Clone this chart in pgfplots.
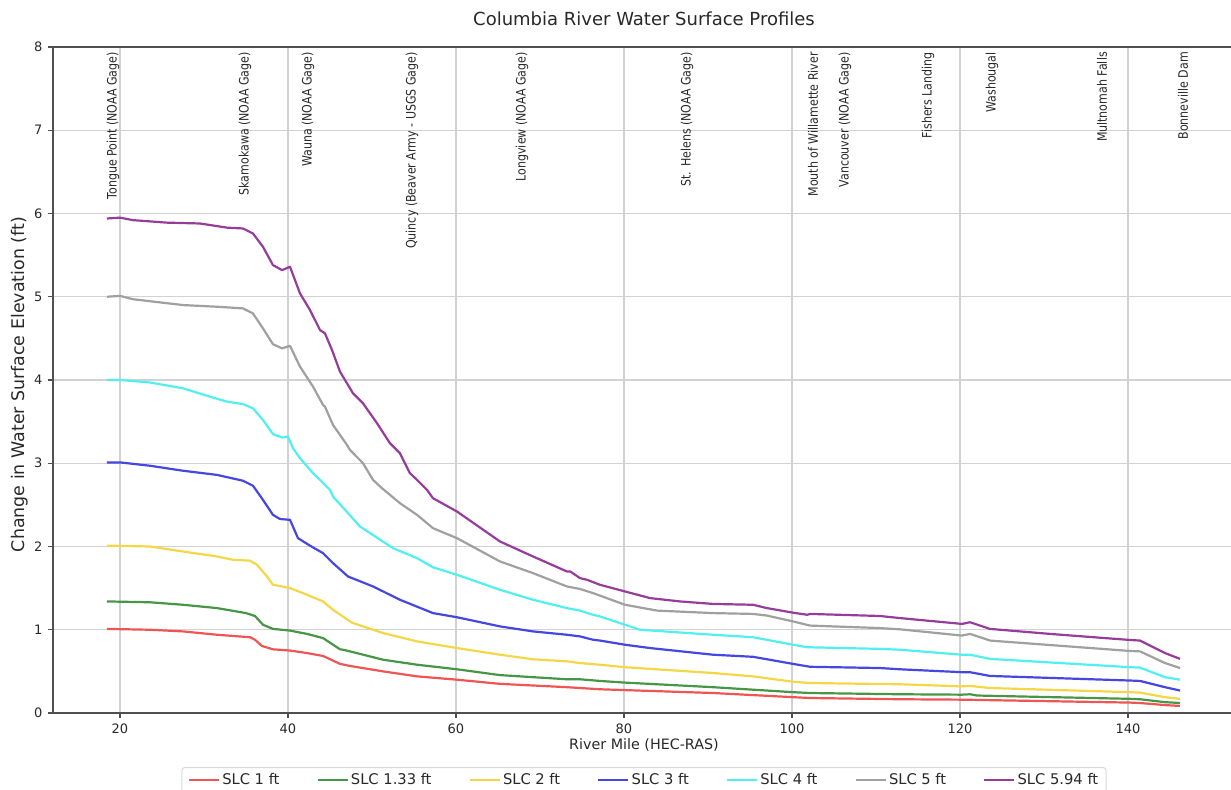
\documentclass[border=0pt]{standalone}
\usepackage{fontspec}
\setmainfont{DejaVu Sans}
\newfontfamily\labfont{DejaVu Sans}[FakeStretch=0.85]
\usepackage{pgfplots}
\pgfplotsset{compat=1.18}
\definecolor{cRed}{RGB}{240,85,85}
\definecolor{cGreen}{RGB}{70,150,70}
\definecolor{cYellow}{RGB}{245,215,70}
\definecolor{cBlue}{RGB}{70,70,225}
\definecolor{cCyan}{RGB}{80,240,240}
\definecolor{cGrey}{RGB}{160,160,160}
\definecolor{cPurple}{RGB}{150,60,155}
\definecolor{spine}{RGB}{80,80,80}
\definecolor{txt}{RGB}{40,40,40}
\begin{document}
\begin{tikzpicture}
\begin{axis}[
  name=ax,
  width=1182pt, height=666pt, scale only axis,
  xmin=12.024, xmax=152.74, ymin=0, ymax=8,
  xtick={20,40,...,140}, ytick={0,1,...,8},
  tick pos=left, tick align=outside,
  major tick length=5pt,
  every tick/.style={spine, line width=1.2pt},
  grid=major,
  major grid style={gray!35, line width=1.3pt},
  axis line style={spine, line width=1.8pt},
  /pgf/number format/assume math mode=true,
  tick label style={font=\fontsize{13}{15}\selectfont, text=txt},
  xticklabel style={yshift=-2pt},
  yticklabel style={xshift=-2pt},
  title={Columbia River Water Surface Profiles},
  title style={at={(axis description cs:0.5,1.033)}, anchor=center, font=\fontsize{18}{21}\selectfont, text=txt},
  xlabel={River Mile (HEC-RAS)},
  x label style={at={(axis description cs:0.5,-0.048)}, anchor=center, font=\fontsize{14.3}{17}\selectfont, text=txt},
  ylabel={Change in Water Surface Elevation (ft)},
  y label style={at={(axis description cs:-0.0279,0.493)}, anchor=center, font=\fontsize{17.4}{20}\selectfont, text=txt},
  legend columns=7,
  legend style={at={(axis description cs:0.5,-0.0811)}, anchor=north,
    draw=gray!30, rounded corners=3pt, line width=1pt,
    font=\fontsize{14.7}{17}\selectfont, text=txt,
    inner xsep=6pt, inner ysep=4pt,
    /tikz/every even column/.append style={column sep=35pt}},
  legend image code/.code={\draw[#1, line width=2.5pt] (0pt,0pt) -- (30pt,0pt);},
  every axis plot/.append style={line width=2.2pt, line join=round},
]
\addplot[cRed] coordinates {
(18.45,1.01) (23.57,1.00) (27.5,0.98) (31.55,0.94) (35.48,0.91) (36.07,0.88) (36.9,0.805)
(38.21,0.765) (40.24,0.75) (42.26,0.72) (44.17,0.685) (46.19,0.59) (47.38,0.565) (51.31,0.50)
(55.36,0.44) (60.12,0.40) (65.24,0.35) (73.2,0.31) (74.76,0.30) (77.14,0.285) (80.12,0.275)
(90.6,0.24) (100.12,0.19) (102.14,0.18) (112.86,0.165) (120.24,0.16) (140.24,0.125) (141.43,0.12) (144.4,0.095) (146.19,0.085)};
\addlegendentry{SLC 1 ft}
\addplot[cGreen] coordinates {
(18.45,1.34) (23.57,1.33) (27.5,1.30) (31.55,1.26) (35.0,1.20) (36.07,1.165) (37.02,1.06)
(38.21,1.01) (40.24,0.99) (42.26,0.95) (44.17,0.90) (46.19,0.765) (46.55,0.76) (47.38,0.74)
(51.31,0.64) (55.36,0.58) (60.12,0.525) (65.24,0.455) (73.2,0.405) (74.76,0.405) (77.14,0.385)
(80.12,0.365) (90.6,0.31) (100.12,0.25) (102.14,0.24) (112.86,0.225) (120.24,0.22) (121.2,0.225) (122,0.21)
(140.24,0.17) (141.43,0.165) (144.4,0.13) (146.19,0.12)};
\addlegendentry{SLC 1.33 ft}
\addplot[cYellow] coordinates {
(18.45,2.01) (23.57,2.00) (27.5,1.94) (31.55,1.88) (33.45,1.84) (35.48,1.83) (36.31,1.78)
(37.5,1.64) (38.21,1.54) (39.29,1.52) (40.24,1.50) (41.79,1.44) (44.17,1.34) (45.36,1.24)
(47.38,1.10) (47.74,1.08) (51.31,0.96) (55.36,0.86) (60.12,0.78) (65.24,0.70) (69.17,0.645)
(73.2,0.62) (74.76,0.60) (77.14,0.58) (80.12,0.55) (90.6,0.48) (95.36,0.44) (100.12,0.375)
(102.14,0.36) (112.86,0.345) (120.24,0.32) (121.2,0.325) (123.57,0.30) (140.24,0.25) (141.43,0.245) (144.4,0.19) (146.19,0.17)};
\addlegendentry{SLC 2 ft}
\addplot[cBlue] coordinates {
(18.45,3.01) (20.0,3.01) (23.57,2.97) (27.5,2.91) (31.55,2.86) (34.64,2.79) (35.83,2.73)
(37.02,2.56) (38.21,2.38) (39.05,2.33) (40.24,2.32) (41.19,2.10) (42.62,2.01) (44.17,1.92)
(45.36,1.80) (47.14,1.64) (50.12,1.52) (53.33,1.36) (57.26,1.20) (60.12,1.15) (65.24,1.04)
(69.17,0.98) (73.2,0.94) (74.76,0.92) (76.31,0.88) (77.14,0.87) (80.12,0.82) (83.1,0.78)
(90.6,0.70) (95.36,0.675) (100.12,0.59) (102.14,0.555) (110.48,0.54) (112.86,0.525)
(120.24,0.49) (121.19,0.49) (123.57,0.445) (140.24,0.39) (141.43,0.385) (144.4,0.31) (146.19,0.27)};
\addlegendentry{SLC 3 ft}
\addplot[cCyan] coordinates {
(18.45,4.00) (20.0,4.00) (23.57,3.97) (27.5,3.90) (30.7,3.80) (32.74,3.74) (34.64,3.71)
(35.83,3.66) (37.02,3.52) (38.21,3.35) (39.29,3.31) (40.0,3.32) (40.6,3.18) (41.43,3.06)
(42.98,2.88) (43.81,2.80) (45.0,2.68) (45.36,2.60) (48.57,2.24) (52.5,1.98) (55.36,1.86)
(57.26,1.75) (60.12,1.66) (65.24,1.48) (69.17,1.36) (73.2,1.26) (74.76,1.23) (76.31,1.18)
(77.14,1.16) (80.12,1.06) (81.9,1.00) (90.6,0.94) (95.36,0.91) (100.12,0.82) (101.79,0.79)
(110.48,0.77) (112.86,0.76) (120.24,0.70) (121.19,0.70) (123.57,0.65) (140.24,0.55) (141.43,0.545)
(144.4,0.43) (146.19,0.40)};
\addlegendentry{SLC 4 ft}
\addplot[cGrey] coordinates {
(18.45,5.00) (20.0,5.01) (21.55,4.97) (27.5,4.90) (31.55,4.88) (34.64,4.86) (35.83,4.80)
(37.02,4.62) (38.21,4.43) (39.29,4.38) (40.24,4.41) (41.43,4.16) (42.98,3.92) (44.17,3.70)
(44.4,3.68) (45.36,3.46) (47.02,3.22) (47.38,3.16) (48.93,3.00) (50.12,2.80) (51.19,2.70)
(53.33,2.52) (55.36,2.38) (57.26,2.22) (60.12,2.10) (65.24,1.82) (69.17,1.68) (73.2,1.52)
(74.76,1.49) (76.31,1.44) (80.12,1.30) (83.93,1.23) (90.6,1.20) (95.36,1.19) (97.02,1.17)
(100.12,1.10) (102.14,1.05) (110.48,1.02) (112.86,1.005) (120.24,0.93) (121.19,0.95)
(123.57,0.87) (140.24,0.745) (141.43,0.74) (144.4,0.60) (146.19,0.54)};
\addlegendentry{SLC 5 ft}
\addplot[cPurple] coordinates {
(18.45,5.94) (20.0,5.95) (21.55,5.92) (25.6,5.89) (29.52,5.88) (32.74,5.83) (34.64,5.82)
(35.83,5.76) (37.02,5.60) (38.21,5.38) (39.29,5.32) (40.24,5.36) (41.43,5.04) (42.62,4.84)
(43.81,4.60) (44.4,4.56) (45.24,4.36) (46.19,4.10) (47.74,3.84) (48.93,3.72) (50.6,3.48)
(52.14,3.24) (53.33,3.12) (54.52,2.88) (55.36,2.80) (56.55,2.68) (57.26,2.58) (60.12,2.42)
(65.24,2.06) (69.17,1.88) (73.2,1.70) (73.6,1.70) (74.76,1.62) (75.6,1.60) (77.14,1.54)
(80.12,1.46) (83.1,1.38) (86.67,1.34) (90.6,1.31) (95.36,1.30) (97.02,1.26) (100.12,1.205)
(101.79,1.18) (102.2,1.19) (110.48,1.165) (112.86,1.14) (120.24,1.07) (121.19,1.09)
(123.57,1.01) (130.7,0.95) (140.24,0.877) (141.43,0.87) (144.4,0.72) (146.19,0.65)};
\addlegendentry{SLC 5.94 ft}
\begin{scope}[every node/.style={rotate=90, anchor=east, inner sep=0pt, font=\labfont\fontsize{13}{15}\selectfont, text=txt}]
\node at (axis cs:19.17,7.94) {Tongue Point (NOAA Gage)};
\node at (axis cs:34.88,7.94) {Skamokawa (NOAA Gage)};
\node at (axis cs:42.38,7.94) {Wauna (NOAA Gage)};
\node at (axis cs:54.76,7.94) {Quincy (Beaver Army - USGS Gage)};
\node at (axis cs:67.86,7.94) {Longview (NOAA Gage)};
\node at (axis cs:87.5,7.94) {St. Helens (NOAA Gage)};
\node at (axis cs:102.5,7.94) {Mouth of Willamette River};
\node at (axis cs:106.31,7.94) {Vancouver (NOAA Gage)};
\node at (axis cs:116.19,7.94) {Fishers Landing};
\node at (axis cs:123.81,7.94) {Washougal};
\node at (axis cs:136.9,7.94) {Multnomah Falls};
\node at (axis cs:146.55,7.94) {Bonneville Dam};
\end{scope}
\end{axis}
\pgfresetboundingbox
\path[use as bounding box] ([xshift=-53pt,yshift=-77pt]ax.south west) rectangle ([xshift=1178pt,yshift=47pt]ax.north west);
\end{tikzpicture}
\end{document}
